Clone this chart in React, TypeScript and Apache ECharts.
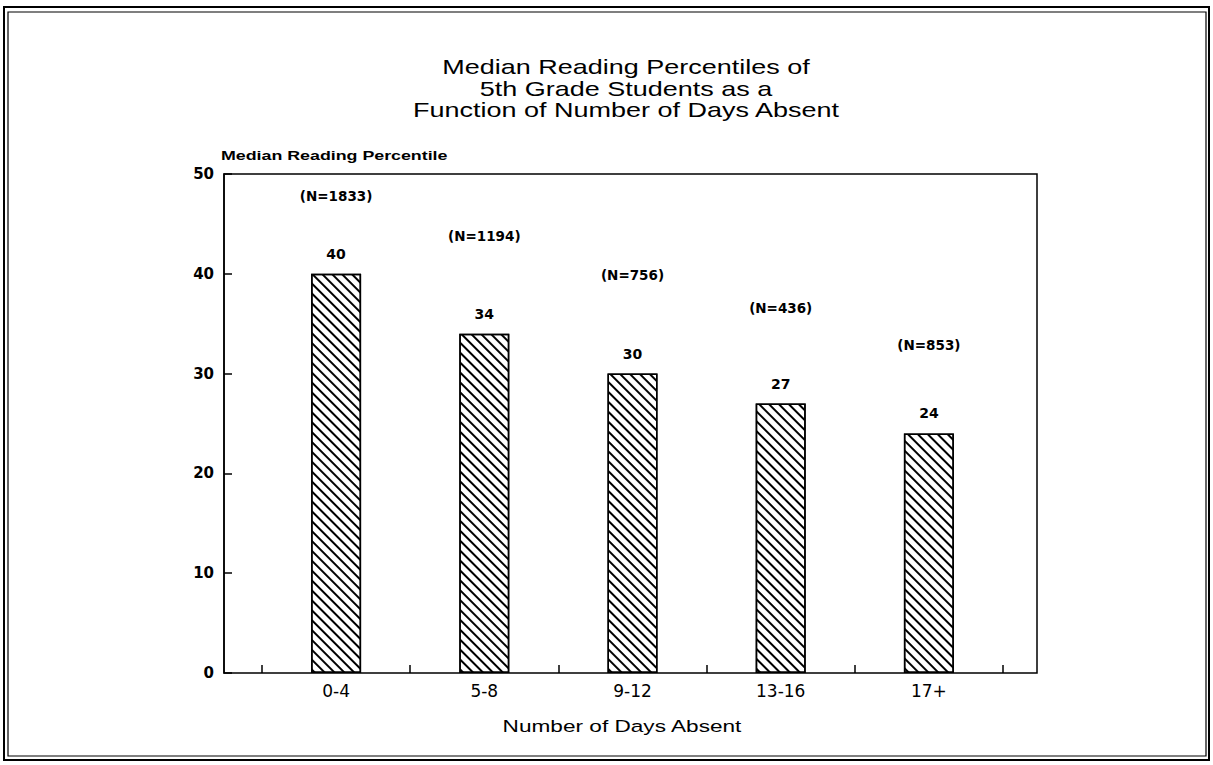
import React, { useEffect, useRef } from "react";
import * as echarts from "echarts";

const titleLines = [
  "Median Reading Percentiles of",
  "5th Grade Students as a",
  "Function of Number of Days Absent",
];
const yAxisTitle = "Median Reading Percentile";
const xAxisTitle = "Number of Days Absent";
const categories = ["0-4", "5-8", "9-12", "13-16", "17+"];
const medianPercentiles = [40, 34, 30, 27, 24];
const sampleSizes = [1833, 1194, 756, 436, 853];
const sampleLabelY = [47.8, 43.8, 39.9, 36.6, 32.9];
const yMin = 0;
const yMax = 50;
const yInterval = 10;

export default function App() {
  const ref = useRef<HTMLDivElement>(null);
  useEffect(() => {
    if (!ref.current) return;
    const chart = echarts.init(ref.current, null, { renderer: "svg" });
    const tickFont = "DejaVu Sans";
    const option: any = {
      animation: false,
      backgroundColor: "#fff",
      grid: [
        {
          left: 224,
          top: 174,
          width: 813,
          height: 499,
          show: true,
          borderColor: "#000",
          borderWidth: 1.5,
          backgroundColor: "transparent",
        },
        { left: 262, top: 174, width: 741, height: 499 },
      ],
      xAxis: [
        { gridIndex: 0, type: "value", min: 0, max: 1, show: false },
        {
          gridIndex: 1,
          type: "category",
          data: categories,
          axisLine: { show: false },
          axisTick: {
            show: true,
            inside: true,
            length: 8,
            lineStyle: { color: "#000", width: 1.5 },
          },
          axisLabel: {
            color: "#000",
            fontFamily: tickFont,
            fontSize: 17,
            margin: 9,
          },
        },
      ],
      yAxis: [
        {
          gridIndex: 0,
          type: "value",
          min: yMin,
          max: yMax,
          interval: yInterval,
          axisLine: { show: true, lineStyle: { color: "#000", width: 1.5 } },
          axisTick: {
            show: true,
            inside: true,
            length: 8,
            lineStyle: { color: "#000", width: 1.5 },
          },
          splitLine: { show: false },
          axisLabel: {
            color: "#000",
            fontFamily: tickFont,
            fontWeight: "bold",
            fontSize: 15,
            margin: 10,
          },
        },
        {
          gridIndex: 1,
          type: "value",
          min: yMin,
          max: yMax,
          interval: yInterval,
          show: false,
        },
      ],
      series: [
        {
          type: "bar",
          xAxisIndex: 1,
          yAxisIndex: 1,
          data: medianPercentiles,
          barWidth: 50,
          itemStyle: {
            color: "#fff",
            borderColor: "#000",
            borderWidth: 1.5,
            decal: {
              symbol: "rect",
              symbolSize: 1,
              dashArrayX: [1, 0],
              dashArrayY: [2, 5],
              rotation: Math.PI / 4,
              color: "#000",
              backgroundColor: "#fff",
            },
          },
          label: {
            show: true,
            position: "top",
            distance: 13,
            color: "#000",
            fontFamily: tickFont,
            fontWeight: "bold",
            fontSize: 14,
          },
        },
        {
          type: "scatter",
          xAxisIndex: 1,
          yAxisIndex: 1,
          symbolSize: 2,
          itemStyle: { color: "rgba(0,0,0,0)" },
          data: sampleLabelY.map((v, i) => [i, v]),
          label: {
            show: true,
            position: "inside",
            color: "#000",
            textBorderWidth: 0,
            opacity: 1,
            fontFamily: tickFont,
            fontWeight: "bold",
            fontSize: 13.5,
            formatter: (p: any) => "(N=" + sampleSizes[p.dataIndex] + ")",
          },
          z: 5,
        },
      ],
      graphic: [
        {
          type: "rect",
          shape: { x: 4, y: 7, width: 1205, height: 753 },
          style: { fill: "none", stroke: "#000", lineWidth: 2 },
          silent: true,
        },
        {
          type: "rect",
          shape: { x: 8, y: 12, width: 1198, height: 744 },
          style: { fill: "none", stroke: "#000", lineWidth: 1.2 },
          silent: true,
        },
        ...titleLines.map((t, i) => ({
          type: "text",
          x: 626,
          y: 67 + i * 21.5,
          scaleX: 1.35,
          style: {
            text: t,
            align: "center",
            verticalAlign: "middle",
            fill: "#000",
            font: "20px 'Liberation Sans'",
          },
        })),
        {
          type: "text",
          x: 221,
          y: 155,
          scaleX: 1.37,
          style: {
            text: yAxisTitle,
            align: "left",
            verticalAlign: "middle",
            fill: "#000",
            font: "bold 13px 'Liberation Sans'",
          },
        },
        {
          type: "text",
          x: 622,
          y: 726,
          scaleX: 1.33,
          style: {
            text: xAxisTitle,
            align: "center",
            verticalAlign: "middle",
            fill: "#000",
            font: "17px 'Liberation Sans'",
          },
        },
      ],
    };
    chart.setOption(option);
    return () => chart.dispose();
  }, []);
  return (
    <div
      ref={ref}
      style={{ position: "fixed", left: 0, top: 0, width: 1213, height: 765 }}
    />
  );
}
